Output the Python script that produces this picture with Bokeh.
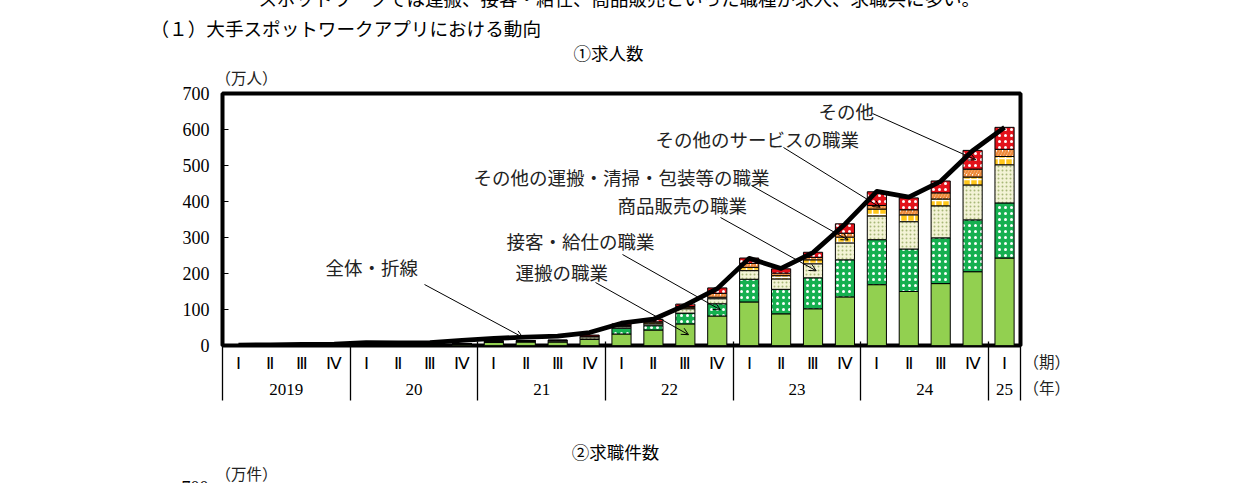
from bokeh.plotting import figure
from bokeh.models import (FactorRange, Range1d, Label, Arrow, OpenHead,
                          FixedTicker, ColumnDataSource, LinearAxis)
from bokeh.embed import file_html
from bokeh.resources import INLINE

# ---------------- data ----------------
years = ["2019"] * 4 + ["20"] * 4 + ["21"] * 4 + ["22"] * 4 + ["23"] * 4 + ["24"] * 4 + ["25"]
quarters = ["Ⅰ", "Ⅱ", "Ⅲ", "Ⅳ"] * 6 + ["Ⅰ"]

series_names = ["運搬の職業", "接客・給仕の職業", "商品販売の職業",
                "その他の運搬・清掃・包装等の職業", "その他のサービスの職業", "その他"]

unpan = [0, 0, 0, 0, 0.5, 0.5, 2, 4.5, 9, 10, 10, 17,
         32, 43, 60, 82, 121, 88, 102, 135, 169, 150, 172, 205, 243]
sekkyaku = [0, 0, 0, 0, 0, 0, 0, 0.3, 0.5, 0.5, 0.5, 1,
            16, 12, 30, 34, 63, 68, 86, 103, 125, 118, 127, 144, 153]
shohin = [0, 0, 0, 0, 0, 0, 0, 0, 2, 2, 3, 6,
          4, 5, 12, 14, 24, 29, 39, 47, 66, 76, 89, 97, 106]
sonota_unpan = [0, 0, 0, 0, 0, 0, 0, 0, 0.5, 0.5, 0.5, 1,
                2, 3, 3, 4, 9, 9, 11, 16, 19, 19, 19, 22, 23]
sonota_service = [0, 0, 0, 0, 0, 0, 0, 0, 0.3, 0.3, 0.3, 1,
                  2, 3, 3, 11, 11, 7, 7, 11, 10, 14, 17, 22, 20]
sonota = [0, 0, 0, 0, 0, 0, 0, 0, 0.5, 0.5, 1, 3,
          4, 7, 7, 15, 15, 12, 14, 26, 38, 33, 33, 52, 61]
total = [1, 2, 3, 4, 8, 7, 8, 14, 20, 23, 26, 36,
         62, 73, 112, 158, 242, 214, 258, 337, 428, 412, 456, 541, 606]

y_ticks = [0, 100, 200, 300, 400, 500, 600, 700]

# ---------------- figure ----------------
factors = list(zip(years, quarters))
x_range = FactorRange(*factors, factor_padding=0, group_padding=0, range_padding=0)

W, H = 1240, 483
FX0, FX1, FY0, FY1 = 222, 1020, 93, 345   # frame edges in page pixels
p = figure(width=W, height=H, x_range=x_range, y_range=Range1d(0, 700),
           output_backend="svg", toolbar_location=None, title=None,
           min_border_left=FX0, min_border_right=W - FX1,
           min_border_top=FY0, min_border_bottom=H - FY1)
p.background_fill_color = "white"
p.border_fill_color = "white"
p.outline_line_color = "black"
p.outline_line_width = 4
p.xgrid.grid_line_color = None
p.ygrid.grid_line_color = None

def sx(px):
    return (px - FX0) / (FX1 - FX0) * len(factors)
def sy(py):
    return (FY1 - py) / (FY1 - FY0) * 700

# ---------------- stacked bars ----------------
values = [unpan, sekkyaku, shohin, sonota_unpan, sonota_service, sonota]
styles = [
    dict(fill_color="#92D050"),
    dict(fill_color="#16B050", hatch_pattern="dot", hatch_color="white", hatch_scale=6, hatch_weight=1.5),
    dict(fill_color="#F3F3D6", hatch_pattern="dot", hatch_color="#A8B878", hatch_scale=4, hatch_weight=1),
    dict(fill_color="#FFC61A", hatch_pattern="+", hatch_color="white", hatch_scale=7, hatch_weight=1.5),
    dict(fill_color="white", hatch_pattern="/", hatch_color="#EE8A3A", hatch_scale=6, hatch_weight=2.5),
    dict(fill_color="#E3121B", hatch_pattern="dot", hatch_color="white", hatch_scale=6, hatch_weight=1.5),
]
cum = [0.0] * len(factors)
bounds = []
for vals, st in zip(values, styles):
    bottom = list(cum)
    top = [b + v for b, v in zip(bottom, vals)]
    bounds.append((bottom, top))
    src = ColumnDataSource(dict(x=factors, bottom=bottom, top=top))
    p.vbar(x="x", bottom="bottom", top="top", width=0.6, source=src,
           line_color="black", line_width=1, **st)
    cum = top

p.line(x=factors, y=total, line_color="black", line_width=4.8, line_join="round")

# ---------------- axes ----------------
p.yaxis.ticker = FixedTicker(ticks=y_ticks)
p.yaxis.axis_line_color = None
p.yaxis.major_tick_in = 6
p.yaxis.major_tick_out = 0
p.yaxis.minor_tick_line_color = None
p.yaxis.major_tick_line_color = "black"
p.yaxis.major_label_text_font = "Liberation Serif"
p.yaxis.major_label_text_font_size = "18px"
p.yaxis.major_label_text_color = "black"
p.yaxis.major_label_standoff = 13

p.xaxis.axis_line_color = None
p.xaxis.major_tick_line_color = None
p.xaxis.major_tick_out = 0
p.xaxis.major_tick_in = 0
p.xaxis.minor_tick_line_color = None
p.xaxis.separator_line_color = None
p.xaxis.major_label_text_font = "Liberation Serif"
p.xaxis.major_label_text_font_size = "17px"
p.xaxis.major_label_text_color = "black"
p.xaxis.major_label_standoff = 8
p.xaxis.group_text_font = "Liberation Serif"
p.xaxis.group_text_font_size = "17px"
p.xaxis.group_text_font_style = "normal"
p.xaxis.group_text_color = "black"

# year separators: an unlabeled axis below the category axis whose ticks reach up to the frame
year_starts = [i for i in range(len(factors)) if i == 0 or years[i] != years[i - 1]] + [len(factors)]
sep_axis = LinearAxis(ticker=FixedTicker(ticks=year_starts),
                      major_tick_in=56, major_tick_out=3, axis_line_color=None,
                      major_tick_line_color="black", major_tick_line_width=1.3,
                      minor_tick_line_color=None, major_label_text_font_size="0px",
                      major_label_text_alpha=0, major_label_standoff=0)
p.add_layout(sep_axis, "below")

# ---------------- annotations inside the frame ----------------
JP = "Noto Sans CJK JP"
ann = [
    ("全体・折線", 325, 266, (424, 284), None, 9),
    ("運搬の職業", 515, 271, (595, 282), 0, 14),
    ("接客・給仕の職業", 506, 240, (622, 254), 1, 15),
    ("商品販売の職業", 617, 204, (720, 217), 2, 18),
    ("その他の運搬・清掃・包装等の職業", 473, 176, (751, 185), 3, 19),
    ("その他のサービスの職業", 655, 138, (783, 147), 4, 20),
    ("その他", 818, 110, (872, 113), 5, 23),
]
for text, lx, ly, (ax, ay), s, idx in ann:
    p.add_layout(Label(x=sx(lx), y=sy(ly), text=text, text_font=JP,
                       text_font_size="18.5px", text_color="#222222",
                       text_align="left", text_baseline="middle"))
    if s is None:
        ty = total[idx]
        tx = idx + 0.4
    else:
        b, t = bounds[s][0][idx], bounds[s][1][idx]
        ty = (b + t) / 2
        tx = idx + 0.6
    p.add_layout(Arrow(end=OpenHead(size=7, line_width=1, line_color="black"),
                       x_start=sx(ax), y_start=sy(ay), x_end=tx, y_end=ty,
                       line_color="black", line_width=1))

# ---------------- texts outside the frame (placed in side panels) ----------------
def txt(t, px, py, side, size="18px", align="left", font=JP, color="black"):
    p.add_layout(Label(x=sx(px), y=sy(py), text=t, text_font=font, text_font_size=size,
                       text_align=align, text_baseline="middle", text_color=color), side)

txt("スポットワークでは運搬、接客・給仕、商品販売といった職種が求人、求職共に多い。", 258, -3, "above", size="18.5px")
txt("（１）大手スポットワークアプリにおける動向", 150, 27, "above", size="18.6px")
txt("①求人数", 608, 52, "above", size="17.5px", align="center")
txt("（万人）", 215, 76, "left", size="15.5px", color="#222222")
txt("700", 208, 487, "left", size="18px", align="right", font="Liberation Serif")
txt("（期）", 1023, 360, "right", size="15.5px", color="#222222")
txt("（年）", 1023, 386, "right", size="15.5px", color="#222222")
txt("②求職件数", 615, 451, "below", size="17.5px", align="center")
txt("（万件）", 215, 472, "below", size="15.5px", color="#222222")

open("out.html", "w").write(file_html(p, INLINE))
